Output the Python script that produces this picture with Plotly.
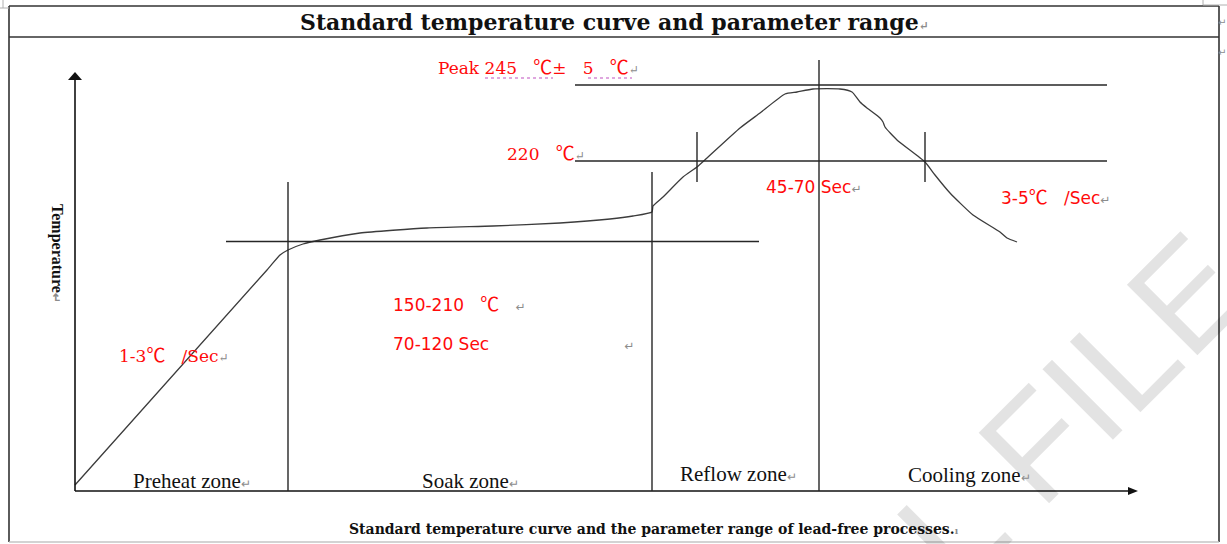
import plotly.graph_objects as go

# Diagram units: x = time along the oven profile, y = height of the temperature above the time axis
time_pts = [0, 192, 205, 213, 228, 245, 285, 352, 418, 485, 535, 558, 577, 578, 588, 608, 622, 632,
            665, 685, 710, 722, 738, 765, 777, 785, 792, 805, 808, 810, 822, 850, 860, 875, 898, 925, 932, 942]
temp_pts = [6, 221, 236, 241, 247, 251, 258, 263, 265, 268, 272, 275, 279, 285, 294, 314, 324, 333,
            363, 378, 397, 399, 402, 402, 399, 389, 383, 373, 369, 364, 351, 329, 316, 298, 276, 259, 253, 249]

# zone boundaries (time) and how high each boundary line is drawn
zone_bounds = [213, 577, 744]
zone_tops = [309, 319, 431]
zone_names = ["Preheat zone", "Soak zone", "Reflow zone", "Cooling zone"]
zone_label_x = [56, 345, 603, 831]
zone_label_y = [10, 10, 17, 16]

# temperature levels: soak plateau, liquidus (220 ℃) and peak (245 ℃)
soak_level = 249.5
liquidus_level = 330
peak_level = 406
liquidus_ticks = [622, 850]

RED = "#ff0a0a"
INK = "#262626"
RET = '<span style="color:#8c8c8c;font-size:12px">↵</span>'
CJK = "Noto Sans CJK SC"
SERIF = "Liberation Serif"
DSERIF = "DejaVu Serif"
SANS = "DejaVu Sans"


def deg(size=18):
    return f'<span style="font-family:{CJK};font-size:{size}px">℃</span>'


fig = go.Figure()

# the reflow temperature profile
fig.add_trace(go.Scatter(
    x=time_pts, y=temp_pts, mode="lines",
    line=dict(color="#3c3c3c", width=1.3, shape="spline", smoothing=0.5),
    hoverinfo="skip", showlegend=False,
))

shapes = []


def seg(x0, y0, x1, y1, color=INK, width=1.4, dash=None, xref="x", yref="y"):
    ln = dict(color=color, width=width)
    if dash:
        ln["dash"] = dash
    shapes.append(dict(type="line", x0=x0, y0=y0, x1=x1, y1=y1,
                       xref=xref, yref=yref, line=ln, layer="above"))


# table frame around the drawing
FL, FR, FT, FS, FB = -66, 1144, 485, 454, -51
seg(FL, FT, FR, FT, color="#333333", width=1.6)
seg(FL, FS, FR, FS, color="#333333", width=1.6)
seg(FL, FT, FL, FB, color="#333333", width=1.6)
seg(FR, FT, FR, FB, color="#333333", width=1.6)
seg(FL, FB, FR, FB, color="#c4c4c4", width=1.5)
# page corner marks
seg(-72, 491, -72, 483, color="#b0b0b0", width=1)
seg(-75, 483, -66, 483, color="#b0b0b0", width=1)
seg(1128, 491, 1128, 486, color="#b0b0b0", width=1)
seg(1128, 486, 1152, 486, color="#b0b0b0", width=1)

# time and temperature axes with arrow heads
X_END, Y_END = 1063, 419
seg(0, 0, X_END - 8, 0, color="#111111", width=1.6)
seg(0, 0, 0, Y_END - 6, color="#111111", width=1.6)
shapes.append(dict(type="path", path=f"M {X_END-10},4 L {X_END},0 L {X_END-10},-4 Z",
                   xref="x", yref="y", fillcolor="#111111", line=dict(width=0), layer="above"))
shapes.append(dict(type="path", path=f"M -7,{Y_END-8} L 0,{Y_END} L 7,{Y_END-8} Z",
                   xref="x", yref="y", fillcolor="#111111", line=dict(width=0), layer="above"))

# zone boundaries
for xb, top in zip(zone_bounds, zone_tops):
    seg(xb, 0, xb, top, width=1.4)

# temperature level lines
seg(151, soak_level, 684, soak_level, width=1.4)
seg(500, liquidus_level, 1032, liquidus_level, width=1.4)
seg(500, peak_level, 1032, peak_level, width=1.4)
for xt in liquidus_ticks:
    seg(xt, liquidus_level - 21, xt, liquidus_level + 29, width=1.4)

# dotted proofing underline under the peak figures
seg(410, 413, 478, 413, color="#c050c0", width=1.2, dash="dot")
seg(513, 413, 557, 413, color="#c050c0", width=1.2, dash="dot")

ann = []


def label(x, y, text, size, family, color, xanchor="left", angle=0, bold=False):
    if bold:
        text = f"<b>{text}</b>"
    ann.append(dict(x=x, y=y, xref="x", yref="y", text=text, showarrow=False,
                    xanchor=xanchor, yanchor="middle", textangle=angle,
                    font=dict(size=size, family=family, color=color)))


# watermark
ann.append(dict(x=998, y=82, xref="x", yref="y", text="L FILE", showarrow=False,
                xanchor="center", yanchor="middle", textangle=-45,
                font=dict(size=145, family="Liberation Sans", color="rgba(0,0,0,0.11)")))

# titles
label(539, 469, "Standard temperature curve and parameter range" + RET, 22, DSERIF, "#111111",
      xanchor="center", bold=True)
label(579, -38, "Standard temperature curve and the parameter range of lead-free processes."
      + '<span style="color:#8c8c8c;font-size:9px">ı</span>', 14, DSERIF, "#111111",
      xanchor="center", bold=True)
label(-18, 238, "Temperature" + RET, 16, SERIF, "#111111", xanchor="center", angle=90, bold=True)

# zone names under the curve
for nm, zx, zy in zip(zone_names, zone_label_x, zone_label_y):
    label(zx, zy, nm + RET, 21, SERIF, "#111111")

# parameter notes
NB = "\u00a0"
label(361, 426, f"Peak 245{NB*3}{deg(19)}±{NB*3}5{NB*3}{deg(19)}" + RET, 17, DSERIF, RED)
label(430, 340, f"220{NB*3}{deg(19)}" + RET, 17, DSERIF, RED)
label(689, 304, f"45-70 Sec" + RET, 17, SANS, RED)
label(924, 296, f"3-5{deg(19)}{NB*3}/Sec" + RET, 17, SANS, RED)
label(316, 189, f"150-210{NB*3}{deg(19)}{NB*3}" + RET, 17, SANS, RED)
label(316, 147, f"70-120 Sec{NB*25}" + RET, 17, SANS, RED)
label(42, 138, f"1-3{deg(19)}{NB*3}/Sec" + RET, 17, DSERIF, RED)

# row end marks at the right of the table
ann.append(dict(x=1147, y=469, xref="x", yref="y", text="↵", showarrow=False,
                xanchor="center", yanchor="middle", font=dict(size=10, family=SANS, color="#8c8c8c")))
ann.append(dict(x=1147, y=439, xref="x", yref="y", text="↵", showarrow=False,
                xanchor="center", yanchor="middle", font=dict(size=10, family=SANS, color="#8c8c8c")))

fig.update_layout(
    width=1227, height=544,
    margin=dict(l=0, r=0, t=0, b=0),
    paper_bgcolor="white", plot_bgcolor="white",
    xaxis=dict(range=[-75, 1152], visible=False, fixedrange=True),
    yaxis=dict(range=[-53, 491], visible=False, fixedrange=True),
    shapes=shapes, annotations=ann,
    showlegend=False,
)

fig.write_html("out.html", config={"displayModeBar": False, "staticPlot": True})
